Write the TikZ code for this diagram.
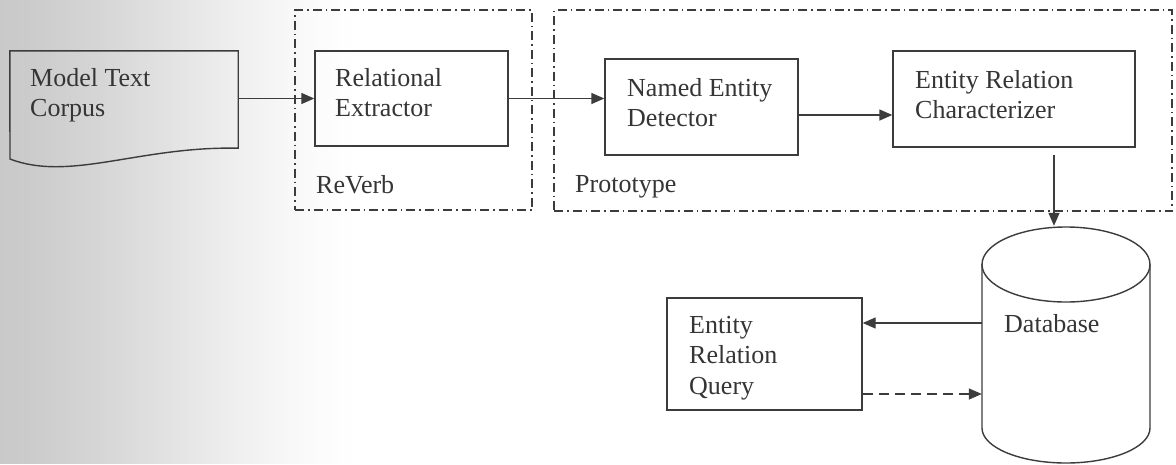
\documentclass[tikz,border=0pt]{standalone}
\usepackage{fontspec}
\setmainfont{Liberation Serif}
\usetikzlibrary{arrows.meta}
\definecolor{ink}{HTML}{3C3C3C}
\definecolor{txt}{HTML}{353535}
\tikzset{
  box/.style={draw=ink, line width=1.4pt, inner sep=0pt},
  frame/.style={draw=ink, line width=1.3pt, dash pattern=on 9pt off 4pt on 1.5pt off 4pt, inner sep=0pt},
  lbl/.style={anchor=north west, align=left, inner sep=0pt, text=txt, font=\fontsize{26}{30.5}\selectfont},
  arr/.style={draw=ink, line width=1.4pt, -{Triangle[length=13pt,width=11pt]}},
  outline/.style={draw=ink, line width=1.4pt}
}
\begin{document}
\begin{tikzpicture}[x=1pt,y=-1pt]
\useasboundingbox (0,0) rectangle (1176,464);
\fill[white] (0,0) rectangle (1176,464);
% greyish tint along the left margin of the page, easing out to white
\foreach \i in {0,...,119}{
  \pgfmathsetmacro\g{21*(1-(\i/120)^1.4)^1.5}
  \fill[black!\g] (\i*3,0) rectangle (\i*3+3.4,464);
}

% grouping frames
\node[frame, minimum width=237pt, minimum height=200pt] (reverb) at (413.5,110) {};
\node[frame, minimum width=618pt, minimum height=201pt] (proto) at (863,110.5) {};
\node[lbl] (t-rv) at (316,175) {ReVerb};
\node[lbl] (t-pr) at (575,175) {Prototype};

% document symbol
\node[inner sep=0pt, minimum width=228pt, minimum height=97pt] (doc) at (124,99.5) {};
\draw[outline] (doc.north west) -- (doc.north east) -- (doc.south east)
  .. controls (140,146) and (70,182) .. (10,159) -- cycle;
\node[lbl] (t-doc) at (30,68) {Model Text\\Corpus};

% processing steps
\node[box, minimum width=193pt, minimum height=95pt] (re) at (411.5,98.5) {};
\node[lbl] (t-re) at (335,68) {Relational\\Extractor};
\node[box, minimum width=193pt, minimum height=96pt] (ned) at (701.5,107) {};
\node[lbl] (t-ned) at (627,78) {Named Entity\\Detector};
\node[box, minimum width=242pt, minimum height=96pt] (ch) at (1014,99) {};
\node[lbl] (t-ch) at (915,70) {Entity Relation\\Characterizer};
\node[box, minimum width=195pt, minimum height=112pt] (erq) at (764.5,354) {};
\node[lbl] (t-erq) at (689,316) {Entity\\Relation\\Query};

% database cylinder
\node[inner sep=0pt, minimum width=168pt, minimum height=238pt] (db) at (1066,345) {};
\draw[outline] (982,264) -- (982,428) arc[start angle=180, end angle=360, x radius=84pt, y radius=35pt] -- (1150,264);
\draw[outline] (1066,264.5) ellipse [x radius=84pt, y radius=37.5pt];
\node[lbl] (t-db) at (1004,314) {Database};

% connectors
\draw[arr] (doc.east |- re.west) -- (re.west);
\draw[arr] (re.east) -- (re.east -| ned.west);
\coordinate (n1) at ([yshift=-8pt]ned.east);
\draw[arr] (n1) -- (n1 -| ch.west);
\coordinate (c1) at ([xshift=40pt,yshift=-7pt]ch.south);
\draw[arr] (c1) -- (c1 |- db.north);
\coordinate (q1) at ([yshift=31pt]erq.east);
\draw[arr] (q1 -| db.west) -- (q1);
\coordinate (q2) at ([yshift=-40pt]erq.east);
\draw[arr, dash pattern=on 10pt off 6pt] (q2) -- (q2 -| db.west);
\end{tikzpicture}
\end{document}
